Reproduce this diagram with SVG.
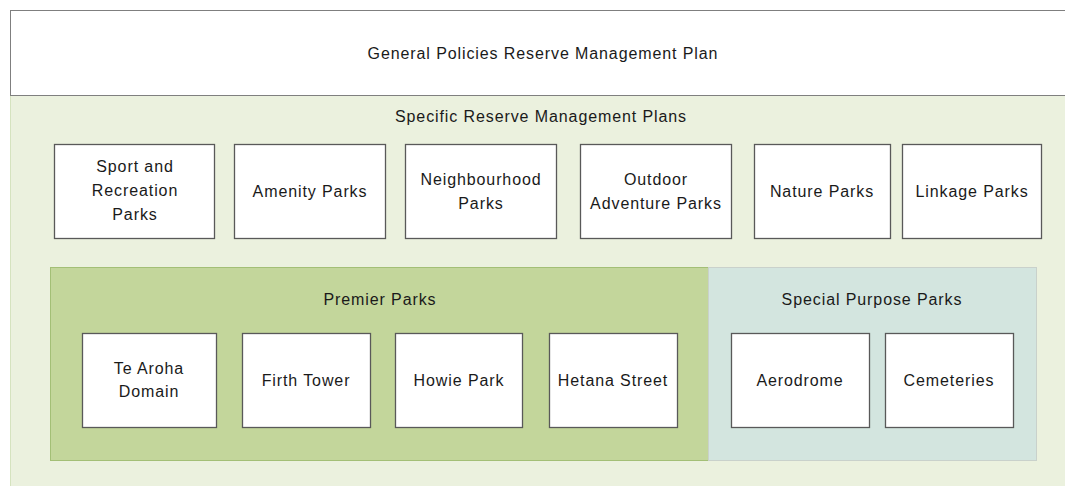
<svg xmlns="http://www.w3.org/2000/svg" width="1065" height="486" viewBox="0 0 1065 486">
<style>
text{font-family:"Liberation Sans",Arial,sans-serif;font-size:16px;fill:#1a1a1a;text-anchor:middle;letter-spacing:0.9px}
.box{fill:#ffffff;stroke:#595959;stroke-width:1.3}
</style>
<rect x="0" y="0" width="1065" height="486" fill="#ffffff"/>
<g id="specific">
<rect x="10.5" y="95" width="1060" height="395" fill="#EBF1DE" stroke="#D5E3BF" stroke-width="1"/>
<text x="541" y="122">Specific Reserve Management Plans</text>
</g>
<g id="general">
<rect x="10.5" y="10.5" width="1060" height="85" fill="#ffffff" stroke="#7F7F7F" stroke-width="1"/>
<text x="543" y="59">General Policies Reserve Management Plan</text>
</g>
<g id="premier">
<rect x="50.5" y="267.5" width="658" height="193" fill="#C3D69B" stroke="#A3BF76" stroke-width="1"/>
<text x="380" y="305">Premier Parks</text>
</g>
<g id="special">
<rect x="708.5" y="267.5" width="328" height="193" fill="#D3E5DF" stroke="#C9D1CB" stroke-width="1"/>
<text x="872" y="305">Special Purpose Parks</text>
</g>
<g id="sport"><rect class="box" x="54.5" y="144.5" width="160" height="94"/><text x="135" y="172">Sport and</text><text x="135" y="196">Recreation</text><text x="135" y="220">Parks</text></g>
<g id="amenity"><rect class="box" x="234.5" y="144.5" width="151" height="94"/><text x="310" y="197">Amenity Parks</text></g>
<g id="neighbourhood"><rect class="box" x="405.5" y="144.5" width="151" height="94"/><text x="481" y="185">Neighbourhood</text><text x="481" y="209">Parks</text></g>
<g id="outdoor"><rect class="box" x="580.5" y="144.5" width="151" height="94"/><text x="656" y="185">Outdoor</text><text x="656" y="209">Adventure Parks</text></g>
<g id="nature"><rect class="box" x="754.5" y="144.5" width="136" height="94"/><text x="822" y="197">Nature Parks</text></g>
<g id="linkage"><rect class="box" x="902.5" y="144.5" width="139" height="94"/><text x="972" y="197">Linkage Parks</text></g>
<g id="tearoha"><rect class="box" x="82.5" y="333.5" width="134" height="94"/><text x="149" y="374">Te Aroha</text><text x="149" y="397">Domain</text></g>
<g id="firth"><rect class="box" x="242.5" y="333.5" width="128" height="94"/><text x="306" y="386">Firth Tower</text></g>
<g id="howie"><rect class="box" x="395.5" y="333.5" width="127" height="94"/><text x="459" y="386">Howie Park</text></g>
<g id="hetana"><rect class="box" x="549.5" y="333.5" width="128" height="94"/><text x="613" y="386">Hetana Street</text></g>
<g id="aerodrome"><rect class="box" x="731.5" y="333.5" width="138" height="94"/><text x="800" y="386">Aerodrome</text></g>
<g id="cemeteries"><rect class="box" x="885.5" y="333.5" width="128" height="94"/><text x="949" y="386">Cemeteries</text></g>
<g id="connectors"></g>
</svg>
